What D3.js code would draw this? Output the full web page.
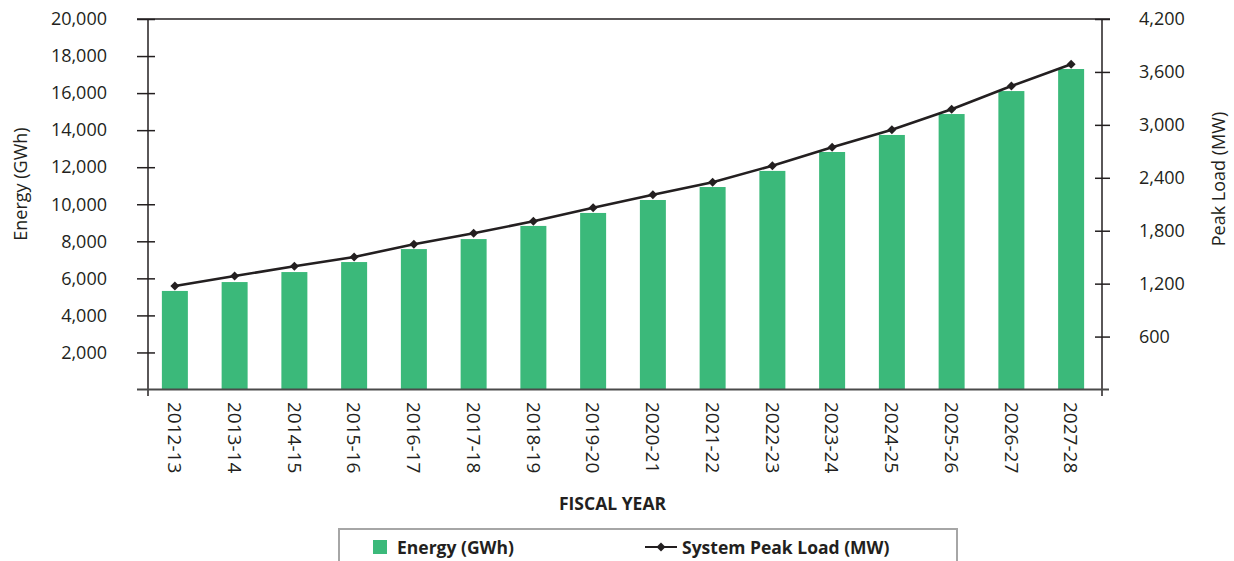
<!DOCTYPE html>
<html>
<head>
<meta charset="utf-8">
<script src="https://cdn.jsdelivr.net/npm/d3@7"></script>
<style>
  html, body { margin: 0; padding: 0; background: #fff; }
  svg { display: block; font-family: "Open Sans", sans-serif; }
</style>
</head>
<body>
<svg id="chart" width="1234" height="561"></svg>
<script>
const years = ["2012-13","2013-14","2014-15","2015-16","2016-17","2017-18","2018-19","2019-20",
               "2020-21","2021-22","2022-23","2023-24","2024-25","2025-26","2026-27","2027-28"];
const energyGWh = [5320, 5800, 6340, 6880, 7580, 8120, 8830, 9530, 10230, 10930, 11800, 12820, 13740, 14870, 16110, 17300];
const peakMW = [1173, 1287, 1397, 1502, 1647, 1771, 1907, 2061, 2208, 2350, 2537, 2746, 2945, 3176, 3441, 3686];
const leftTicks = [2000, 4000, 6000, 8000, 10000, 12000, 14000, 16000, 18000, 20000];
const rightTicks = [600, 1200, 1800, 2400, 3000, 3600, 4200];
const seriesNames = ["Energy (GWh)", "System Peak Load (MW)"];
const axisTitles = { left: "Energy (GWh)", right: "Peak Load (MW)", bottom: "FISCAL YEAR" };

(function () {
const GREEN = "#3bb97a", INK = "#231f20", TXT = "#231f20";
const svg = d3.select("#chart");

const plotTop = 19, plotBottom = 389.5, axL = 148, axR = 1102;
const x = d3.scaleBand().domain(years).range([145, 1101]).paddingInner(0.565).paddingOuter(0.2825);
const yL = d3.scaleLinear().domain([0, 20000]).range([plotBottom, plotTop]);
const yR = d3.scaleLinear().domain([0, 4200]).range([plotBottom, plotTop]);
const fmt = d3.format(",");

// bars
svg.append("g").selectAll("rect").data(years).join("rect")
  .attr("x", d => x(d)).attr("width", x.bandwidth())
  .attr("y", (d, i) => yL(energyGWh[i]))
  .attr("height", (d, i) => plotBottom - yL(energyGWh[i]))
  .attr("fill", GREEN);

// left axis
const gL = svg.append("g").attr("transform", `translate(${axL},0)`)
  .call(d3.axisLeft(yL).tickValues(leftTicks).tickFormat(fmt).tickPadding(35));
gL.select(".domain").remove();
gL.selectAll(".tick line").attr("x1", -11).attr("x2", 7).attr("stroke", INK).attr("stroke-width", 1.5);
gL.selectAll(".tick text").attr("font-size", 18).attr("fill", TXT).attr("font-family", "Open Sans");

// right axis
const gR = svg.append("g").attr("transform", `translate(${axR},0)`)
  .call(d3.axisRight(yR).tickValues(rightTicks).tickFormat(fmt).tickPadding(31));
gR.select(".domain").remove();
gR.selectAll(".tick line").attr("x1", -7).attr("x2", 8).attr("stroke", INK).attr("stroke-width", 1.5);
gR.selectAll(".tick text").attr("font-size", 18).attr("fill", TXT).attr("font-family", "Open Sans");

// frame lines
svg.append("line").attr("x1", axL).attr("x2", axL).attr("y1", plotTop).attr("y2", 396).attr("stroke", INK).attr("stroke-width", 1.5);
svg.append("line").attr("x1", axR).attr("x2", axR).attr("y1", plotTop).attr("y2", 396).attr("stroke", INK).attr("stroke-width", 1.5);
svg.append("line").attr("x1", 137).attr("x2", 1110).attr("y1", plotTop).attr("y2", plotTop).attr("stroke", INK).attr("stroke-width", 1.5);
svg.append("line").attr("x1", 137).attr("x2", 1109).attr("y1", plotBottom).attr("y2", plotBottom).attr("stroke", "#4a4a4a").attr("stroke-width", 2);

// x axis labels
const gX = svg.append("g").attr("transform", `translate(0,${plotBottom})`)
  .call(d3.axisBottom(x).tickSize(0));
gX.select(".domain").remove();
gX.selectAll(".tick text")
  .attr("transform", "rotate(90)").attr("x", 12.5).attr("y", 0).attr("dy", "0.35em")
  .attr("text-anchor", "start").attr("font-size", 19).attr("fill", TXT).attr("font-family", "Open Sans");

// line + markers
const cx = d => x(d) + x.bandwidth() / 2;
svg.append("path").datum(years)
  .attr("d", d3.line().x(d => cx(d)).y((d, i) => yR(peakMW[i])))
  .attr("fill", "none").attr("stroke", INK).attr("stroke-width", 2.6);
const diamond = d3.symbol().type(d3.symbolSquare).size(40)();
svg.append("g").selectAll("path").data(years).join("path")
  .attr("d", diamond)
  .attr("transform", (d, i) => `translate(${cx(d)},${yR(peakMW[i])}) rotate(45)`)
  .attr("fill", INK);

// axis titles
svg.append("text").attr("transform", "translate(19.5,184) rotate(-90)")
  .attr("text-anchor", "middle").attr("dominant-baseline", "central")
  .attr("font-size", 18).attr("fill", TXT).text(axisTitles.left);
svg.append("text").attr("transform", "translate(1218,179) rotate(-90)")
  .attr("text-anchor", "middle").attr("dominant-baseline", "central")
  .attr("font-size", 18).attr("fill", TXT).text(axisTitles.right);
svg.append("text").attr("x", 612.5).attr("y", 503)
  .attr("text-anchor", "middle").attr("dominant-baseline", "central")
  .attr("font-size", 17.5).attr("font-weight", "bold").attr("fill", TXT).text(axisTitles.bottom);

// legend
const lg = svg.append("g");
lg.append("rect").attr("x", 339).attr("y", 529).attr("width", 618).attr("height", 50)
  .attr("fill", "#fff").attr("stroke", "#a6a6a6").attr("stroke-width", 2);
lg.append("rect").attr("x", 373).attr("y", 540).attr("width", 14).attr("height", 14).attr("fill", GREEN);
lg.append("text").attr("x", 397).attr("y", 547).attr("dominant-baseline", "central")
  .attr("font-size", 17.5).attr("font-weight", "bold").attr("fill", TXT).text(seriesNames[0]);
lg.append("line").attr("x1", 645).attr("x2", 677).attr("y1", 547).attr("y2", 547)
  .attr("stroke", INK).attr("stroke-width", 2);
lg.append("path").attr("d", diamond).attr("transform", "translate(661,547) rotate(45)").attr("fill", INK);
lg.append("text").attr("x", 682).attr("y", 547).attr("dominant-baseline", "central")
  .attr("font-size", 17.5).attr("font-weight", "bold").attr("fill", TXT).text(seriesNames[1]);
})();
</script>
</body>
</html>
